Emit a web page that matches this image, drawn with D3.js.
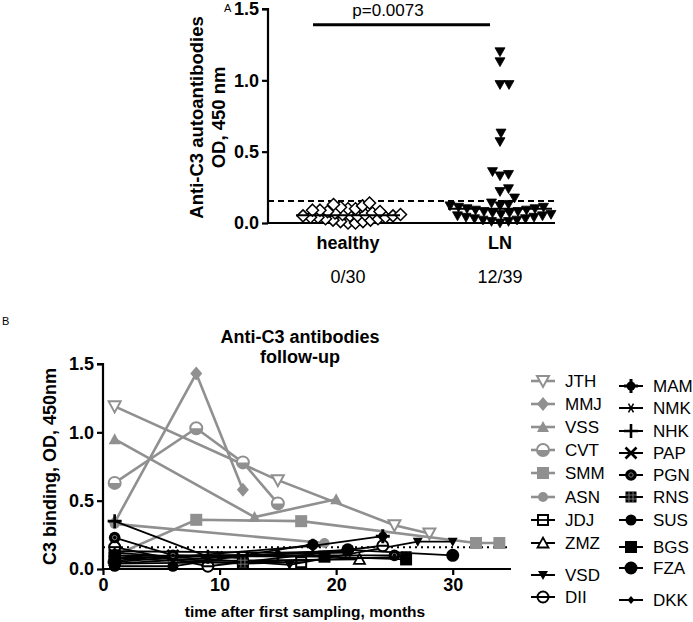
<!DOCTYPE html>
<html><head><meta charset="utf-8">
<script src="https://cdn.jsdelivr.net/npm/d3@7"></script>
<style>body{margin:0;background:#fff} svg{display:block;font-family:"Liberation Sans",Arial,sans-serif}</style>
</head><body><svg id="c" width="693" height="622"></svg>
<script>
// ---------- Panel A data ----------
const groupsA = ["healthy", "LN"];
const countsA = ["0/30", "12/39"];
const healthy = [0.0,0.0,0.01,0.01,0.02,0.02,0.03,0.03,0.04,0.04,0.04,0.05,0.05,0.05,0.05,0.06,0.06,0.06,0.07,0.07,0.08,0.08,0.09,0.09,0.1,0.1,0.11,0.12,0.13,0.14];
const lupus = [0.0,0.01,0.01,0.02,0.02,0.03,0.03,0.04,0.04,0.05,0.05,0.06,0.06,0.07,0.07,0.08,0.08,0.09,0.09,0.1,0.1,0.11,0.11,0.12,0.12,0.13,0.14,
  0.175,0.22,0.24,0.33,0.34,0.36,0.57,0.63,0.97,0.97,1.13,1.2];
const cutoffA = 0.155;
const pLabel = "p=0.0073";
const pLevel = 1.39;
const ticksAy = [0, 0.5, 1.0, 1.5];
const yTitleA = ["Anti-C3 autoantibodies", "OD, 450 nm"];

// ---------- Panel B data ----------
const titleB = ["Anti-C3 antibodies", "follow-up"];
const xTitleB = "time after first sampling, months";
const yTitleB = "C3 binding, OD, 450nm";
const ticksBx = [0, 10, 20, 30];
const ticksBy = [0, 0.5, 1.0, 1.5];
const cutoffB = 0.16;
const JTH = [[1,1.19],[15,0.65],[25,0.32],[28,0.26]];
const MMJ = [[1,0.34],[8,1.43],[12,0.58]];
const VSS = [[1,0.95],[13,0.38],[20,0.51]];
const CVT = [[1,0.63],[8,1.03],[12,0.78],[15,0.48]];
const SMM = [[1,0.1],[8,0.36],[17,0.35],[32,0.19],[34,0.19]];
const ASN = [[1,0.33],[19,0.19]];
const JDJ = [[1,0.08],[12,0.04],[17,0.05]];
const ZMZ = [[1,0.1],[9,0.06],[22,0.07]];
const VSD = [[1,0.12],[16,0.03],[27,0.2],[30,0.2]];
const DII = [[1,0.16],[9,0.02],[24,0.17]];
const MAM = [[1,0.05],[18,0.17],[24,0.24]];
const NMK = [[1,0.08],[10,0.1],[21,0.12]];
const NHK = [[1,0.35],[9,0.09],[15,0.1]];
const PAP = [[1,0.06],[6,0.1],[12,0.08]];
const PGN = [[1,0.23],[6,0.1],[25,0.1]];
const RNS = [[1,0.04],[12,0.05],[26,0.09]];
const SUS = [[1,0.02],[6,0.02],[18,0.18]];
const BGS = [[1,0.1],[19,0.09],[26,0.07]];
const FZA = [[1,0.04],[21,0.14],[30,0.1]];
const DKK = [[1,0.13],[15,0.12],[21,0.13]];
const seriesNames = ["JTH","MMJ","VSS","CVT","SMM","ASN","JDJ","ZMZ","VSD","DII","MAM","NMK","NHK","PAP","PGN","RNS","SUS","BGS","FZA","DKK"];
const seriesValues = [JTH,MMJ,VSS,CVT,SMM,ASN,JDJ,ZMZ,VSD,DII,MAM,NMK,NHK,PAP,PGN,RNS,SUS,BGS,FZA,DKK];
const seriesGray = [true,true,true,true,true,true,false,false,false,false,false,false,false,false,false,false,false,false,false,false];
const seriesMarker = ["triDownOpen","diamond","triUp","circleHalf","square","dot","squareLine","triUpOpen","triDownSmall","circleLine","plusBlob","asterisk","plus","cross","circlePattern","squarePattern","circle","square","circleBig","diamondSmall"];

const svg = d3.select("#c");
const GRAY = "#909090";
const BOLD = "bold";

// ---------- Panel A ----------
const yA = d3.scaleLinear().domain([0, 1.5]).range([223, 9]);
const xA = d3.scalePoint().domain(groupsA).range([348, 500]);
const gA = svg.append("g");
const axLeftA = 268, axRightA = 555;

function swarm(values, ys, cx, diam) {
  const order = values.map((v, i) => i).sort((a, b) => values[a] - values[b]);
  const placed = [], out = [];
  for (const i of order) {
    const y = ys(values[i]);
    let best = null;
    for (let k = 0; k < 400 && best === null; k++) {
      const offs = k === 0 ? [0] : [k * 0.5, -k * 0.5];
      for (const o of offs) {
        if (placed.every(p => Math.hypot(p.x - (cx + o), p.y - y) >= diam)) { best = o; break; }
      }
    }
    placed.push({x: cx + best, y});
    out[i] = {x: cx + best, y};
  }
  return out;
}

// axes A
const yAxisA = d3.axisLeft(yA).tickValues(ticksAy).tickFormat(d3.format(".1f")).tickSize(6).tickPadding(3);
const gyA = gA.append("g").attr("transform", `translate(${axLeftA},0)`).call(yAxisA);
gyA.select(".domain").attr("stroke-width", 2.2).attr("d", `M-6,${yA(1.5)}H0V${yA(0)}`);
gyA.selectAll(".tick line").attr("stroke-width", 2.2);
gyA.selectAll("text").attr("font-size", 18).attr("font-weight", BOLD).attr("fill", "#000");
gA.append("line").attr("x1", axLeftA).attr("x2", axRightA).attr("y1", yA(0)).attr("y2", yA(0)).attr("stroke", "#000").attr("stroke-width", 2.2);

// cutoff
gA.append("line").attr("x1", axLeftA).attr("x2", axRightA).attr("y1", yA(cutoffA)).attr("y2", yA(cutoffA))
  .attr("stroke", "#000").attr("stroke-width", 2).attr("stroke-dasharray", "6,4");

// points
const hPts = swarm(healthy, yA, xA("healthy"), 7.4);
gA.append("g").selectAll("path").data(hPts).join("path")
  .attr("transform", d => `translate(${d.x},${d.y})`)
  .attr("d", "M0,-6L6,0L0,6L-6,0Z").attr("fill", "#fff").attr("stroke", "#000").attr("stroke-width", 1.5);
const lPts = swarm(lupus, yA, xA("LN"), 8.6);
gA.append("g").selectAll("path").data(lPts).join("path")
  .attr("transform", d => `translate(${d.x},${d.y})`)
  .attr("d", "M-5,-4L5,-4L0,4.8Z").attr("fill", "#000").attr("stroke", "#000").attr("stroke-width", 0.8);

// medians
[[healthy, "healthy", 52], [lupus, "LN", 52]].forEach(([vals, g, hw]) => {
  const m = d3.median(vals);
  gA.append("line").attr("x1", xA(g) - hw).attr("x2", xA(g) + hw).attr("y1", yA(m)).attr("y2", yA(m))
    .attr("stroke", "#000").attr("stroke-width", 2);
});

// p-value
gA.append("line").attr("x1", 313).attr("x2", 490).attr("y1", yA(pLevel)).attr("y2", yA(pLevel)).attr("stroke", "#000").attr("stroke-width", 3);
gA.append("text").attr("x", 388).attr("y", 16).attr("text-anchor", "middle").attr("font-size", 17).text(pLabel);

// labels A
gA.append("text").attr("x", 224).attr("y", 12).attr("font-size", 11).text("A");
gA.selectAll(".cat").data(groupsA).join("text").attr("class", "cat")
  .attr("x", d => xA(d)).attr("y", 249).attr("text-anchor", "middle").attr("font-size", 18).attr("font-weight", BOLD).text(d => d);
gA.selectAll(".cnt").data(countsA).join("text").attr("class", "cnt")
  .attr("x", (d, i) => xA(groupsA[i])).attr("y", 283).attr("text-anchor", "middle").attr("font-size", 18).text(d => d);
yTitleA.forEach((t, i) => {
  gA.append("text").attr("transform", `translate(${203 + i * 22},${yA(0.74)}) rotate(-90)`)
    .attr("text-anchor", "middle").attr("font-size", 18.5).attr("font-weight", BOLD).text(t);
});

// ---------- Panel B ----------
const xB = d3.scaleLinear().domain([0, 35]).range([103, 511]);
const yB = d3.scaleLinear().domain([0, 1.5]).range([569, 364]);
const gB = svg.append("g");

gB.append("text").attr("x", 2).attr("y", 325).attr("font-size", 11).text("B");
titleB.forEach((t, i) => gB.append("text").attr("x", 300).attr("y", 343 + i * 20).attr("text-anchor", "middle")
  .attr("font-size", 18).attr("font-weight", BOLD).text(t));

const gyB = gB.append("g").attr("transform", `translate(${xB(0)},0)`)
  .call(d3.axisLeft(yB).tickValues(ticksBy).tickFormat(d3.format(".1f")).tickSize(6).tickPadding(3));
gyB.select(".domain").attr("stroke-width", 2.2).attr("d", `M-6,${yB(1.5)}H0V${yB(0)}`);
gyB.selectAll(".tick line").attr("stroke-width", 2.2);
gyB.selectAll("text").attr("font-size", 18).attr("font-weight", BOLD).attr("fill", "#000");

const gxB = gB.append("g").attr("transform", `translate(0,${yB(0)})`)
  .call(d3.axisBottom(xB).tickValues(ticksBx).tickSize(6).tickPadding(3));
gxB.select(".domain").attr("stroke-width", 2.2).attr("d", `M${xB(0)},0H${xB(35)}`);
gxB.selectAll(".tick line").attr("stroke-width", 2.2);
gxB.selectAll("text").attr("font-size", 18).attr("font-weight", BOLD).attr("fill", "#000");

gB.append("text").attr("x", 305).attr("y", 617).attr("text-anchor", "middle").attr("font-size", 15.5).attr("font-weight", BOLD).text(xTitleB);
gB.append("text").attr("transform", `translate(56,${yB(0.75)}) rotate(-90)`).attr("text-anchor", "middle")
  .attr("font-size", 18).attr("font-weight", BOLD).text(yTitleB);

// cutoff B
gB.append("line").attr("x1", xB(0)).attr("x2", xB(34.7)).attr("y1", yB(cutoffB)).attr("y2", yB(cutoffB))
  .attr("stroke", "#000").attr("stroke-width", 2).attr("stroke-dasharray", "2,4");

function marker(g, type, x, y, c) {
  const s = g.append("g").attr("transform", `translate(${x},${y})`);
  const P = (d, fill, stroke, sw) => s.append("path").attr("d", d).attr("fill", fill).attr("stroke", stroke || "none").attr("stroke-width", sw || 0);
  switch (type) {
    case "triDownOpen": P("M-6,-5L6,-5L0,6Z", "#fff", c, 2); break;
    case "triUpOpen": P("M-5.5,4.5L5.5,4.5L0,-5.5Z", "#fff", c, 1.8); break;
    case "triUp": P("M-6,5L6,5L0,-6Z", c); break;
    case "triDownSmall": P("M-5,-4L5,-4L0,5Z", c); break;
    case "diamond": P("M0,-7L6,0L0,7L-6,0Z", c); break;
    case "diamondSmall": P("M0,-4L3.5,0L0,4L-3.5,0Z", c); break;
    case "square": P("M-6,-6H6V6H-6Z", c); break;
    case "dot": s.append("circle").attr("r", 5).attr("fill", c); break;
    case "circle": s.append("circle").attr("r", 5.5).attr("fill", c); break;
    case "circleBig": s.append("circle").attr("r", 6.5).attr("fill", c); break;
    case "circleHalf":
      s.append("circle").attr("r", 6).attr("fill", "#fff").attr("stroke", c).attr("stroke-width", 2);
      P("M-6,0A6,6 0 0,0 6,0Z", c); break;
    case "circleLine":
      s.append("circle").attr("r", 5.5).attr("fill", "#fff").attr("stroke", c).attr("stroke-width", 2);
      P("M-6,0H6", "none", c, 2); break;
    case "squareLine": P("M-5,-5H5V5H-5Z", "#fff", c, 2); P("M-5,0H5", "none", c, 1.8); break;
    case "plusBlob": s.append("circle").attr("r", 4.5).attr("fill", c); P("M-7,0H7M0,-7V7", "none", c, 3); break;
    case "asterisk": P("M-5,0H5M-2.5,-4.3L2.5,4.3M-2.5,4.3L2.5,-4.3", "none", c, 1.5); break;
    case "plus": P("M-7,0H7M0,-7V7", "none", c, 2.6); break;
    case "cross": P("M-5.5,-5.5L5.5,5.5M-5.5,5.5L5.5,-5.5", "none", c, 2.6); break;
    case "circlePattern": s.append("circle").attr("r", 5.8).attr("fill", c);
      s.append("circle").attr("r", 2.2).attr("fill", "none").attr("stroke", "#777").attr("stroke-width", 1); break;
    case "squarePattern": P("M-5.5,-5.5H5.5V5.5H-5.5Z", c); P("M-2,-5V5M2,-5V5M-5,-2H5M-5,2H5", "none", "#888", 0.8); break;
  }
}

const line = d3.line().x(d => xB(d[0])).y(d => yB(d[1]));
const order = d3.range(seriesNames.length).sort((a, b) => (seriesGray[b] ? 1 : 0) - (seriesGray[a] ? 1 : 0));
order.forEach(i => {
  const c = seriesGray[i] ? GRAY : "#000";
  const g = gB.append("g");
  g.append("path").attr("d", line(seriesValues[i])).attr("fill", "none").attr("stroke", c)
    .attr("stroke-width", seriesGray[i] ? 2.6 : 1.8);
  seriesValues[i].forEach(d => marker(g, seriesMarker[i], xB(d[0]), yB(d[1]), c));
});

// legend
const legY1 = [381, 404, 427, 450, 473, 497, 520, 543, 575, 597];
const legY2 = [386, 408, 431, 453, 475, 497, 520, 547, 568, 600];
seriesNames.forEach((n, i) => {
  const col = i < 10 ? 0 : 1;
  const mx = col === 0 ? 543 : 631;
  const my = col === 0 ? legY1[i] : legY2[i - 10];
  const c = seriesGray[i] ? GRAY : "#000";
  const g = gB.append("g");
  g.append("line").attr("x1", mx - 12).attr("x2", mx + 12).attr("y1", my).attr("y2", my).attr("stroke", c).attr("stroke-width", seriesGray[i] ? 2.6 : 2);
  marker(g, seriesMarker[i], mx, my, c);
  g.append("text").attr("x", mx + 22).attr("y", my + 6).attr("font-size", 17).text(n);
});
</script></body></html>
